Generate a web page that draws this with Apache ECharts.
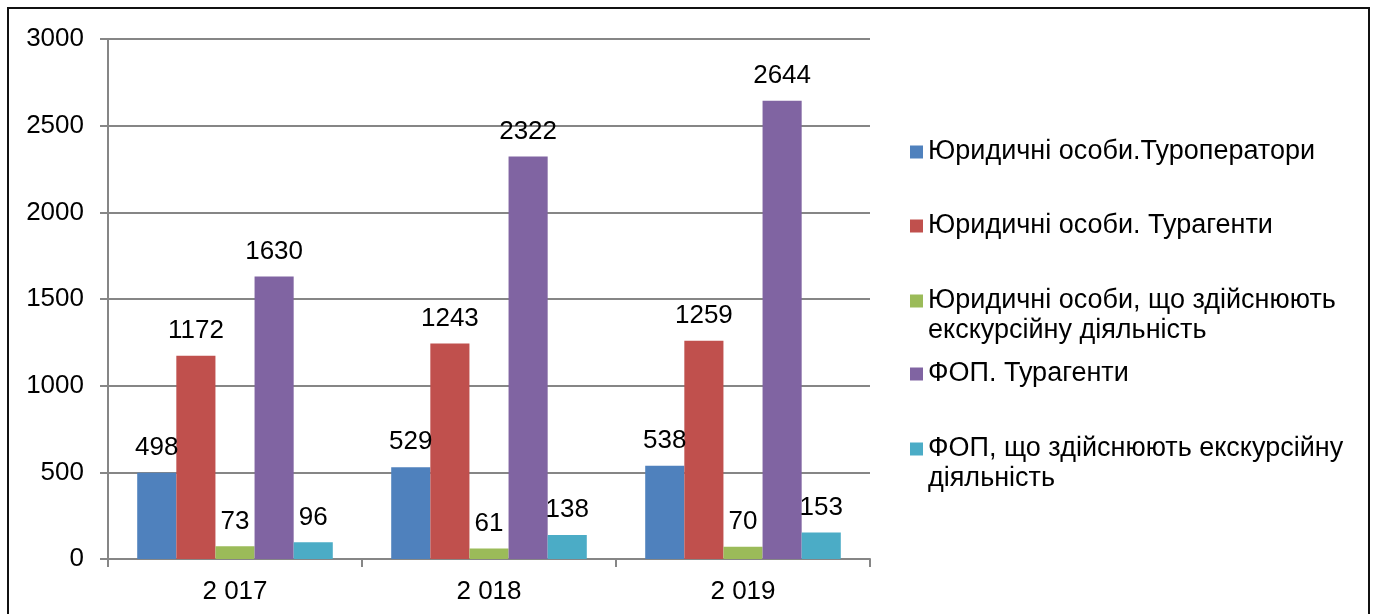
<!DOCTYPE html>
<html>
<head>
<meta charset="utf-8">
<script src="https://cdn.jsdelivr.net/npm/echarts@6/dist/echarts.min.js"></script>
<style>
  html, body { margin: 0; padding: 0; background: #fff; }
  #chart { width: 1375px; height: 614px; }
</style>
</head>
<body>
<div id="chart"></div>
<script>
// categories (years)
var years = ['2 017', '2 018', '2 019'];

// series names, as in the legend
var names = [
  'Юридичні особи.Туроператори',
  'Юридичні особи. Турагенти',
  'Юридичні особи, що здійснюють\nекскурсійну діяльність',
  'ФОП. Турагенти',
  'ФОП, що здійснюють екскурсійну\nдіяльність'
];

// values per series
var touroperators = [498, 529, 538];
var agentsLegal   = [1172, 1243, 1259];
var excursLegal   = [73, 61, 70];
var agentsFop     = [1630, 2322, 2644];
var excursFop     = [96, 138, 153];

var colors = ['#4F81BD', '#C0504D', '#9BBB59', '#8064A2', '#4BACC6'];
var values = [touroperators, agentsLegal, excursLegal, agentsFop, excursFop];

var font = 'Liberation Sans, Arial, sans-serif';

var chart = echarts.init(document.getElementById('chart'));

//   one legend per item so the markers sit at even steps
//   two-line names get an empty line on top, so the marker lines up with the first line
var legendTops = [152, 226, 301, 374, 449];
var legends = names.map(function (n, i) {
  var twoLines = n.indexOf('\n') >= 0;
  return {
    orient: 'vertical',
    left: 910,
    top: legendTops[i] - (twoLines ? 45 : 15),
    padding: 0,
    itemWidth: 13,
    itemHeight: 13,
    itemGap: 0,
    icon: 'rect',
    data: [n],
    selectedMode: false,
    formatter: function (name) {
      return name.indexOf('\n') >= 0 ? ' \n' + name : name;
    },
    textStyle: {
      fontFamily: font,
      fontSize: 27,
      color: '#000',
      lineHeight: 30
    }
  };
});

var series = names.map(function (n, i) {
  return {
    name: n,
    type: 'bar',
    data: values[i],
    barGap: '0%',
    barCategoryGap: '23%',
    itemStyle: { color: colors[i] },
    label: {
      show: true,
      position: 'top',
      distance: 12,
      fontFamily: font,
      fontSize: 26,
      color: '#000'
    }
  };
});

chart.setOption({
  backgroundColor: '#fff',
  animation: false,
  color: colors,
  grid: { left: 108, right: 505, top: 39, bottom: 55 },
  legend: legends,
  xAxis: {
    type: 'category',
    data: years,
    axisLine: { lineStyle: { color: '#868686', width: 2 } },
    axisTick: { show: true, length: 8, alignWithLabel: false, lineStyle: { color: '#868686', width: 2 } },
    axisLabel: { fontFamily: font, fontSize: 26, color: '#000', margin: 20 }
  },
  yAxis: {
    type: 'value',
    min: 0,
    max: 3000,
    interval: 500,
    axisLine: { show: true, lineStyle: { color: '#868686', width: 2 } },
    axisTick: { show: true, length: 8, lineStyle: { color: '#868686', width: 2 } },
    splitLine: { lineStyle: { color: '#868686', width: 2 } },
    axisLabel: {
      fontFamily: font, fontSize: 26, color: '#000', margin: 24,
      formatter: function (v) { return String(v); }
    }
  },
  graphic: [{
    type: 'rect',
    shape: { x: 8, y: 8, width: 1361, height: 640 },
    style: { fill: null, stroke: '#111', lineWidth: 2 },
    silent: true
  }],
  series: series
});
</script>
</body>
</html>
